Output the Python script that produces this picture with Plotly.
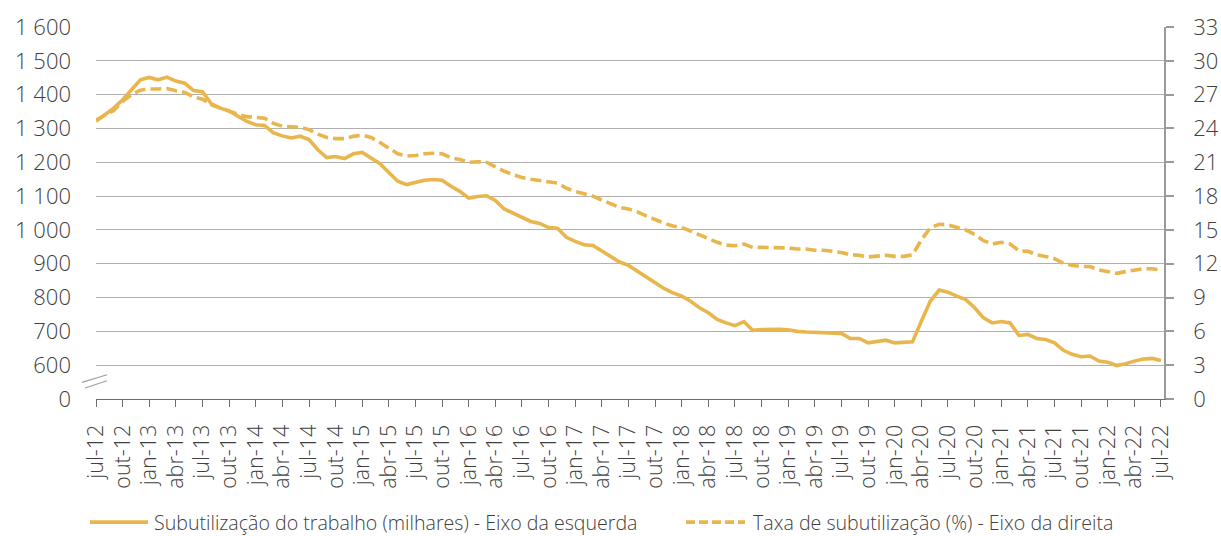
import plotly.graph_objects as go

# --- data -------------------------------------------------------------
month_abbr = ["jan", "fev", "mar", "abr", "mai", "jun", "jul", "ago", "set", "out", "nov", "dez"]
start_year, start_month = 2012, 7
n_months = 121
months = []
for k in range(n_months):
    m = (start_month - 1 + k) % 12
    y = start_year + (start_month - 1 + k) // 12
    months.append(f"{month_abbr[m]}-{str(y)[2:]}")

# Subutilização do trabalho (milhares) - left axis
subutilizacao = [
    1321, 1341, 1360, 1385, 1414, 1444, 1451, 1444, 1452, 1440, 1434, 1412,
    1409, 1373, 1360, 1352, 1336, 1321, 1311, 1309, 1287, 1278, 1272, 1277,
    1267, 1237, 1214, 1217, 1211, 1225, 1229, 1214, 1196, 1170, 1144, 1134,
    1140, 1147, 1149, 1147, 1129, 1114, 1094, 1099, 1101, 1087, 1062, 1050,
    1037, 1025, 1019, 1007, 1005, 978, 966, 956, 954, 937, 920, 905,
    895, 878, 861, 841, 827, 814, 804, 789, 770, 755, 735, 725,
    717, 729, 703, 705, 706, 706, 705, 700, 698, 697, 697, 696,
    694, 679, 679, 666, 670, 674, 666, 667, 669, 730, 789, 822,
    816, 804, 794, 770, 740, 725, 729, 725, 688, 691, 679, 676,
    666, 644, 632, 625, 627, 612, 609, 599, 604, 612, 618, 620,
    614,
]

# Taxa de subutilização (%) - right axis
taxa = [
    24.75, 25.2, 25.6, 26.4, 27.0, 27.4, 27.5, 27.5, 27.55, 27.35, 27.2, 26.8,
    26.6, 26.1, 25.8, 25.5, 25.25, 25.05, 24.95, 24.9, 24.45, 24.2, 24.15, 24.1,
    23.9, 23.5, 23.2, 23.1, 23.1, 23.3, 23.4, 23.2, 22.75, 22.25, 21.75, 21.55,
    21.6, 21.75, 21.8, 21.75, 21.4, 21.25, 21.0, 21.05, 21.0, 20.6, 20.2, 19.9,
    19.65, 19.5, 19.4, 19.3, 19.15, 18.7, 18.4, 18.2, 18.0, 17.65, 17.3, 17.0,
    16.85, 16.6, 16.25, 15.9, 15.6, 15.35, 15.2, 14.9, 14.55, 14.25, 13.9, 13.65,
    13.6, 13.75, 13.45, 13.45, 13.45, 13.45, 13.4, 13.3, 13.3, 13.2, 13.2, 13.1,
    13.0, 12.8, 12.75, 12.6, 12.7, 12.75, 12.65, 12.65, 12.8, 14.1, 15.2, 15.5,
    15.45, 15.2, 15.0, 14.6, 14.05, 13.75, 13.9, 13.75, 13.15, 13.1, 12.8, 12.65,
    12.45, 12.05, 11.85, 11.75, 11.75, 11.45, 11.3, 11.15, 11.3, 11.45, 11.55, 11.55,
    11.45,
]

left_tickvals = [500, 600, 700, 800, 900, 1000, 1100, 1200, 1300, 1400, 1500, 1600]
left_ticktext = ["0", "600", "700", "800", "900", "1 000", "1 100", "1 200",
                 "1 300", "1 400", "1 500", "1 600"]
right_tickvals = [0, 3, 6, 9, 12, 15, 18, 21, 24, 27, 30, 33]
x_tickvals = months[::3]

name_left = "Subutilização do trabalho (milhares) - Eixo da esquerda"
name_right = "Taxa de subutilização (%) - Eixo da direita"

# --- style ------------------------------------------------------------
GOLD = "#E9B54D"
TEXT = "#404040"
GRID = "#B0B0B0"
FONT = "Open Sans"

fig = go.Figure()
fig.add_trace(go.Scatter(
    x=months, y=subutilizacao, name=name_left, mode="lines",
    line=dict(color=GOLD, width=3.6), yaxis="y", showlegend=False,
))
fig.add_trace(go.Scatter(
    x=months, y=taxa, name=name_right, mode="lines",
    line=dict(color=GOLD, width=3.6, dash="11px,5px"), yaxis="y2", showlegend=False,
))

fig.update_layout(
    width=1221, height=536,
    margin=dict(l=96, r=57, t=27, b=137),
    paper_bgcolor="white", plot_bgcolor="white",
    font=dict(family=FONT, color=TEXT, size=21, weight=300),
    xaxis=dict(
        type="category", categoryorder="array", categoryarray=months,
        range=[0, 120.34], tickmode="array", tickvals=x_tickvals,
        tickangle=-90, ticks="outside", ticklen=7, tickcolor="#6E6E6E",
        tickwidth=1.3, showline=True, linecolor="#6E6E6E", linewidth=1.3,
        showgrid=False, zeroline=False, ticklabelstandoff=9,
        tickfont=dict(size=21.5), automargin=False,
    ),
    yaxis=dict(
        range=[500, 1600], tickmode="array", tickvals=left_tickvals,
        ticktext=left_ticktext, showgrid=True, gridcolor=GRID, gridwidth=1.3,
        zeroline=False, showline=False, ticks="", ticklabelstandoff=24,
        tickfont=dict(size=22), automargin=False,
    ),
    yaxis2=dict(
        range=[0, 33], tickmode="array", tickvals=right_tickvals,
        overlaying="y", side="right", showgrid=False, zeroline=False,
        showline=True, linecolor="#9A9A9A", linewidth=1.5,
        ticks="outside", ticklen=8, tickcolor="#9A9A9A", tickwidth=1.5,
        ticklabelstandoff=15, tickfont=dict(size=22), automargin=False,
    ),
)

# axis break marks
for (x0, y0, x1, y1) in [(82, 382.7, 107, 375), (85, 388.3, 107, 381)]:
    fig.add_shape(type="line", xref="paper", yref="paper",
                  x0=(x0 - 96) / 1068, x1=(x1 - 96) / 1068,
                  y0=(399.3 - y0) / 372.3, y1=(399.3 - y1) / 372.3,
                  line=dict(color="#A0A0A0", width=1.2))

# legend (drawn manually)
leg_y = (399.3 - 522.5) / 372.3
fig.add_shape(type="line", xref="paper", yref="paper",
              x0=(90 - 96) / 1068, x1=(148 - 96) / 1068, y0=leg_y, y1=leg_y,
              line=dict(color=GOLD, width=3.6))
fig.add_shape(type="line", xref="paper", yref="paper",
              x0=(686 - 96) / 1068, x1=(745 - 96) / 1068, y0=leg_y, y1=leg_y,
              line=dict(color=GOLD, width=3.6, dash="9px,4px"))
fig.add_annotation(text=name_left, xref="paper", yref="paper",
                   x=(152 - 96) / 1068, y=leg_y, xanchor="left", yanchor="middle",
                   showarrow=False, font=dict(size=19.6))
fig.add_annotation(text=name_right, xref="paper", yref="paper",
                   x=(751 - 96) / 1068, y=leg_y, xanchor="left", yanchor="middle",
                   showarrow=False, font=dict(size=19.6))

fig.write_html(
    "out.html",
    config={"displayModeBar": False},
    post_script="document.body.style.margin='0';document.body.style.overflow='hidden';",
)
